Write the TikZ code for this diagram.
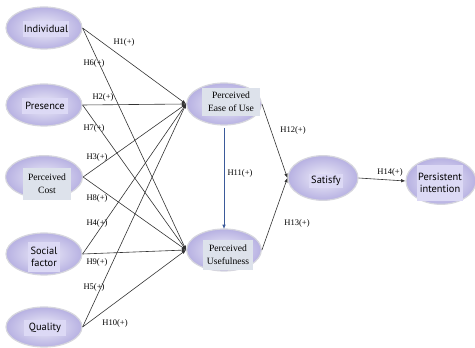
\documentclass[tikz,border=0pt]{standalone}
\usepackage{fontspec}
\setmainfont{Liberation Serif}
\setsansfont{PT Sans}
\usetikzlibrary{shapes.geometric,arrows.meta}
\definecolor{ellin}{HTML}{EEEDF9}
\definecolor{ellout}{HTML}{B7B1E2}
\definecolor{ellrim}{HTML}{D6D6DE}
\definecolor{boxlav}{HTML}{DCD9F5}
\definecolor{boxgray}{HTML}{DDE2EB}
\definecolor{arrblue}{HTML}{3B5A9A}
\definecolor{linec}{HTML}{333333}
\tikzset{
  ell/.style={ellipse, inner sep=0pt, draw=ellrim, line width=0.9pt,
    inner color=ellin, outer color=ellout},
  sbox/.style={fill=boxlav, inner sep=0pt, align=center,
    font=\sffamily\fontsize{7.8}{9.4}\selectfont},
  rbox/.style={fill=boxgray, inner sep=0pt, align=center,
    font=\rmfamily\fontsize{7.2}{10}\selectfont},
  hl/.style={font=\rmfamily\fontsize{6.4}{7}\selectfont, inner sep=0.5pt},
  conn/.style={draw=linec, line width=0.45pt, -{Latex[length=3.2pt,width=2.6pt]}},
}
\begin{document}
\begin{tikzpicture}[x=0.75pt,y=-0.75pt]
\useasboundingbox (0,0) rectangle (475,348);
% ellipses
\node[ell, minimum width=57pt, minimum height=31.5pt] (ind) at (44,28) {};
\node[ell, minimum width=57pt, minimum height=31.5pt] (pres) at (44,105) {};
\node[ell, minimum width=57.75pt, minimum height=32pt] (cost) at (44,177) {};
\node[ell, minimum width=57pt, minimum height=31.5pt] (soc) at (44,254) {};
\node[ell, minimum width=57pt, minimum height=30pt] (qual) at (44,327) {};
\node[ell, minimum width=56pt, minimum height=31.5pt] (ease) at (224,104) {};
\node[ell, minimum width=56pt, minimum height=31.5pt] (use) at (224,250) {};
\node[ell, minimum width=52.5pt, minimum height=33.5pt] (sat) at (323,178) {};
\node[ell, minimum width=52.5pt, minimum height=35pt] (pers) at (441,181) {};
% text boxes
\node[sbox, minimum width=35pt, minimum height=11.5pt] (indt) at (46,29) {Individual};
\node[sbox, minimum width=34pt, minimum height=11.5pt] (prest) at (45,106) {Presence};
\node[rbox, minimum width=36.5pt, minimum height=24pt] (costt) at (47,184) {Perceived\\Cost};
\node[sbox, minimum width=24pt, minimum height=22pt] (soct) at (44,257) {Social\\factor};
\node[sbox, minimum width=32pt, minimum height=11.5pt] (qualt) at (45,328) {Quality};
\node[rbox, minimum width=43.5pt, minimum height=21pt] (easet) at (231,102) {Perceived\\Ease of Use};
\node[rbox, minimum width=38pt, minimum height=22.5pt] (uset) at (228,255) {Perceived\\Usefulness};
\node[sbox, minimum width=26pt, minimum height=11pt] (satt) at (326,181) {Satisfy};
\node[sbox, minimum width=34.5pt, minimum height=27.5pt] (perst) at (440,183) {Persistent\\intention};
% connectors
\foreach \s in {ind,pres,cost,soc,qual}{
  \draw[conn] (\s.east) -- (ease.west);
  \draw[conn] (\s.east) -- (use.west);
}
\draw[draw=arrblue, line width=0.5pt, -{Latex[length=3.2pt,width=2.6pt]}] (ease.south |- 0,128) coordinate (h11a) -- (use.north |- 0,229) coordinate (h11b);
\draw[conn] (ease.east) -- (sat.west);
\draw[conn] (use.east) -- (sat.west);
\draw[conn] (sat.east) -- (pers.west);
% labels
\node[hl] (l1) at (124,42) {H1(+)};
\node[hl] (l6) at (94,63) {H6(+)};
\node[hl] (l2) at (103,97) {H2(+)};
\node[hl] (l7) at (94,128) {H7(+)};
\node[hl] (l3) at (97,157) {H3(+)};
\node[hl] (l8) at (97,198) {H8(+)};
\node[hl] (l4) at (97,223) {H4(+)};
\node[hl] (l9) at (97,262) {H9(+)};
\node[hl] (l5) at (94,287) {H5(+)};
\node[hl] (l10) at (115,323) {H10(+)};
\node[hl] (l11) at (240,173) {H11(+)};
\node[hl] (l12) at (293,130) {H12(+)};
\node[hl] (l13) at (297,223) {H13(+)};
\node[hl] (l14) at (390,172) {H14(+)};
\end{tikzpicture}
\end{document}
